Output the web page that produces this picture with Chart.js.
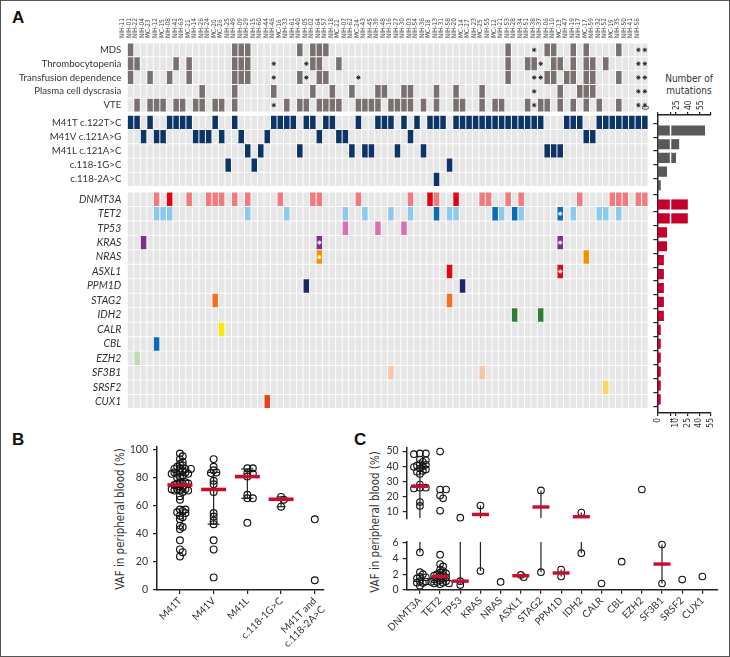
<!DOCTYPE html>
<html>
<head>
<meta charset="utf-8">
<title>UBA1 variants and co-mutations</title>
<script src="https://cdn.jsdelivr.net/npm/chart.js@4.4.1/dist/chart.umd.min.js"></script>
<style>
  html, body { margin: 0; padding: 0; background: #fff; }
  #fig { position: relative; width: 730px; height: 657px; overflow: hidden; background: #fff; }
  #fig canvas { position: absolute; }
  .txt { position: absolute; white-space: nowrap; color: #333; }
  .panel { font: bold 17px "Liberation Sans", Arial, sans-serif; color: #111; }
  .narrow { font-family: "Liberation Sans Narrow", "DejaVu Sans Condensed", Roboto, sans-serif; }
  .ytitle { font-size: 11.5px; transform: translate(-50%, -50%) rotate(-90deg); }
  #frame { position: absolute; left: 0; top: 0; width: 730px; height: 657px; box-sizing: border-box; border: 1.5px solid #555; pointer-events: none; }
</style>
</head>
<body>
<div id="fig">
  <div class="txt panel" style="left:12px;top:8px">A</div>
  <div class="txt panel" style="left:12px;top:430px">B</div>
  <div class="txt panel" style="left:354px;top:430px">C</div>
  <div class="txt narrow" style="left:659px;top:73px;width:60px;text-align:center;font-size:10px;line-height:11.5px">Number of<br>mutations</div>
  <div class="txt narrow ytitle" style="left:120px;top:519px">VAF in peripheral blood (%)</div>
  <div class="txt narrow ytitle" style="left:375px;top:522px">VAF in peripheral blood (%)</div>
  <div id="frame"></div>
</div>
<script>
const NARROW = '"Liberation Sans Narrow", "DejaVu Sans Condensed", Roboto, sans-serif';
Chart.defaults.font.family = 'Lato, "Liberation Sans", sans-serif';
Chart.defaults.color = '#333';

// ---------- panel A data ----------
const patients = ['NIH-11', 'NIH-01', 'NIH-22', 'NIH-04', 'MC-23', 'NIH-12', 'MC-15', 'NIH-08', 'NIH-42', 'NIH-63',
    'MC-21', 'NIH-14', 'NIH-26', 'NIH-24', 'MC-20', 'MC-26', 'NIH-25', 'NIH-49', 'NIH-09', 'NIH-29',
    'NIH-15', 'NIH-60', 'NIH-44', 'NIH-46', 'MC-16', 'NIH-33', 'NIH-61', 'NIH-40', 'NIH-05', 'NIH-02',
    'NIH-64', 'NIH-57', 'NIH-18', 'MC-22', 'NIH-07', 'NIH-62', 'MC-24', 'NIH-43', 'NIH-45', 'NIH-39',
    'NIH-48', 'NIH-16', 'NIH-27', 'NIH-30', 'NIH-03', 'NIH-54', 'NIH-36', 'MC-18', 'NIH-13', 'NIH-31',
    'NIH-58', 'NIH-20', 'MC-14', 'MC-27', 'NIH-23', 'MC-25', 'NIH-55', 'MC-12', 'NIH-21', 'NIH-53',
    'NIH-28', 'NIH-34', 'NIH-51', 'NIH-38', 'NIH-37', 'NIH-06', 'NIH-10', 'MC-13', 'NIH-47', 'NIH-19',
    'NIH-17', 'MC-17', 'NIH-59', 'NIH-32', 'NIH-52', 'MC-19', 'NIH-35', 'NIH-50', 'NIH-41', 'NIH-56'];

const clinicalRows = ['MDS', 'Thrombocytopenia', 'Transfusion dependence', 'Plasma cell dyscrasia', 'VTE'];
const variantRows = ['M41T c.122T>C', 'M41V c.121A>G', 'M41L c.121A>C', 'c.118-1G>C', 'c.118-2A>C'];
const geneRows = ['DNMT3A', 'TET2', 'TP53', 'KRAS', 'NRAS', 'ASXL1', 'PPM1D', 'STAG2', 'IDH2', 'CALR',
    'CBL', 'EZH2', 'SF3B1', 'SRSF2', 'CUX1'];

// column indexes (into patients) that are filled
const mds = [0, 16, 17, 18, 26, 28, 29, 30, 58, 64, 65, 68, 70, 75];
const thrombocytopenia = [0, 1, 7, 9, 16, 17, 18, 28, 29, 32, 58, 61, 62, 65, 66, 68, 70, 71, 73];
const transfusionDependence = [0, 3, 6, 9, 16, 17, 18, 26, 29, 30, 58, 64, 65, 67, 68, 70, 71, 75];
const plasmaCellDyscrasia = [11, 16, 22, 28, 31, 34, 38, 39, 42, 43, 47, 50, 54, 66, 69, 70, 71];
const vte = [1, 3, 4, 5, 7, 8, 10, 11, 13, 14, 16, 24, 26, 27, 29, 30, 31, 32, 35, 36, 37, 38, 40, 41, 42, 43,
    45, 47, 50, 51, 54, 56, 57, 61, 63, 64, 66, 68, 70, 72, 75];
// "*" cells, one list per clinical row
const clinicalStars = [[62, 78, 79], [22, 27, 63, 78, 79], [22, 27, 35, 62, 63, 78, 79], [62, 78, 79], [22, 62, 78, 79]];

const m41t = [0, 1, 3, 6, 7, 8, 9, 13, 16, 22, 23, 24, 25, 27, 28, 30, 31, 35, 38, 39, 40, 42, 44, 46, 47, 48,
    50, 51, 52, 53, 54, 55, 56, 57, 58, 59, 60, 61, 62, 63, 67, 68, 69, 72, 73, 74, 75, 76, 77, 78, 79];
const m41v = [2, 4, 5, 10, 11, 12, 14, 17, 21, 29, 32, 33, 43, 70, 71];
const m41l = [18, 20, 26, 34, 36, 37, 41, 45, 64, 65, 66];
const c118g = [15, 19, 49];
const c118a = [47];

const geneHits = [
    [4, 6, 9, 12, 13, 14, 16, 18, 23, 28, 29, 35, 43, 46, 47, 50, 54, 55, 58, 60, 69, 74, 75, 76, 78, 79],
    [4, 5, 6, 18, 24, 33, 36, 40, 43, 47, 49, 50, 56, 57, 59, 60, 66, 68, 72, 73, 75],
    [33, 38, 42],
    [2, 29, 66],
    [29, 70],
    [49, 66],
    [27, 51],
    [13, 49],
    [59, 63],
    [14],
    [4],
    [1],
    [40, 54],
    [73],
    [21],
];
const dnmt3aDark = [6, 46, 50];
const tet2Dark = [47, 56, 59, 66];
const geneColors = ['#f27a7e', '#8dc9ef', '#d870b2', '#7d2e8d', '#f39200', '#e30613', '#1d2566', '#f07122',
    '#2e7d32', '#ffe800', '#0a6cb3', '#b9dcb0', '#f9c6a5', '#ffd65c', '#e8411c'];
// [gene row, column] cells marked with a white "*"
const geneStars = [[1, 66], [3, 29], [3, 66], [4, 29], [5, 66]];

const variantCounts = [47, 14, 10, 3, 1];
const geneCounts = [25, 25, 3, 3, 2, 2, 2, 2, 2, 1, 1, 1, 1, 1, 1];
const countTicksLow = [0];
const countTicksHigh = [4, 10, 25, 40, 55];

// ---------- panel B data ----------
const bCategories = ['M41T', 'M41V', 'M41L', 'c.118-1G>C', ['M41T and', 'c.118-2A>C']];
const vafM41T = [97.5, 95.5, 93.5, 91.5, 90, 89, 88, 87, 86.5, 86.5, 86.5, 85, 84, 84, 84, 83, 83, 83, 82, 81,
    80, 77, 77, 76, 76, 76, 75, 74, 73, 72, 72, 72, 71, 71, 71, 70, 67, 64.5, 57.5, 57.5, 56.5, 55.5, 55, 53,
    52, 50.5, 46, 45, 43.5, 35.5, 29, 27, 24];
const vafM41V = [93.5, 88, 85.5, 84, 83.5, 78, 75.5, 70, 55, 52.5, 49.5, 47, 35.5, 29, 9];
const vafM41L = [87, 87, 83.5, 83, 81, 68, 65.5, 65.5, 48];
const vafC118G = [66.5, 64.5, 59.5];
const vafDouble = [50.5, 7];
const bMedians = [75, 71.8, 81, 64.8, null];
const bLow = [null, 47, 65.5, 59.5, null];
const bHigh = [null, 84, 86.5, 66.5, null];
const bTicks = [0, 20, 40, 60, 80, 100];

// ---------- panel C data ----------
const cGenes = ['DNMT3A', 'TET2', 'TP53', 'KRAS', 'NRAS', 'ASXL1', 'STAG2', 'PPM1D', 'IDH2', 'CALR', 'CBL',
    'EZH2', 'SF3B1', 'SRSF2', 'CUX1'];
const cVaf = [
    [48.5, 48.5, 48, 44.5, 44, 43, 41.5, 41, 40.5, 40, 39.5, 38.5, 38, 37, 36.5, 35, 28, 26, 26, 25.5, 16.5, 14,
        4.8, 2.25, 2.0, 1.65, 1.6, 1.45, 1.1, 1.05, 0.9, 0.85, 0.5],
    [49.7, 24.8, 24.8, 20.8, 19, 10.8, 4.5, 3.3, 3.0, 2.6, 2.4, 2.2, 2.1, 2.0, 1.9, 1.8, 1.7, 1.6, 1.5, 1.4,
        1.3, 1.2, 1.1, 1.0, 1.0, 0.9, 0.8, 0.8, 0.7],
    [6.3, 1.1, 0.6],
    [14.2, 2.4],
    [1.0],
    [1.9, 1.6],
    [24.2, 2.25],
    [2.6, 1.7],
    [9.6, 4.7],
    [0.8],
    [3.6],
    [24.8],
    [5.8, 0.8],
    [1.3],
    [1.7],
];
const cMedians = [26.9, 1.7, 1.1, 8.4, null, 1.8, 13.3, 2.15, 6.9, null, null, null, 3.3, null, null];
const cLow = [4.8, 1.0, 0.6, 2.4, null, 1.6, 2.25, 1.7, 4.7, null, null, null, 0.8, null, null];
const cHigh = [40, 3.3, 6.3, 14.2, null, 1.9, 24.2, 2.6, 9.6, null, null, null, 5.8, null, null];
const cTicksTop = [10, 20, 30, 40, 50];
const cTicksBottom = [0, 2, 4, 6];

// ---------- helpers ----------
const INK = '#222';
const RED = '#cc0c2f';
const EMPTY = '#e7e6e7';
const CLIN = '#7a7070';
const NAVY = '#0c3466';
const BREAK = 6.1;

const fig = document.getElementById('fig');
const frame = document.getElementById('frame');

function addCanvas(left, top, w, h) {
    const c = document.createElement('canvas');
    c.width = w;
    c.height = h;
    c.style.left = left + 'px';
    c.style.top = top + 'px';
    c.style.width = w + 'px';
    c.style.height = h + 'px';
    fig.insertBefore(c, frame);
    return c;
}

// pin an axis box to a fixed size so the chart area lands where the figure needs it
function fixSize(w, h) {
    return (s) => {
        s.paddingLeft = 0;
        s.paddingRight = 0;
        s.paddingTop = 0;
        s.paddingBottom = 0;
        if (s.options.display === false) return;
        if (w !== null) s.width = w;
        if (h !== null) s.height = h;
    };
}

function setTicks(values) {
    return (s) => { s.ticks = values.map((v) => ({ value: v })); };
}

const axisGrid = { display: true, drawOnChartArea: false, drawTicks: true, tickLength: 4, color: INK, lineWidth: 1.2 };
const axisBorder = { display: true, color: INK, width: 1.5 };
const noPlugins = { legend: { display: false }, tooltip: { enabled: false } };

// beeswarm offsets (in x units) so the circles do not sit on top of each other
function swarm(values, pxY, pxX, minDist, step) {
    const order = values.map((_, i) => i).sort((a, b) => values[b] - values[a]);
    const placed = [];
    const out = new Array(values.length).fill(0);
    order.forEach((i) => {
        const py = values[i] * pxY;
        for (let k = 0; k < 60; k++) {
            const px = (k % 2 ? 1 : -1) * Math.ceil(k / 2) * step;
            if (placed.every((p) => Math.hypot(p.x - px, p.y - py) >= minDist)) {
                placed.push({ x: px, y: py });
                out[i] = px / pxX;
                break;
            }
        }
    });
    return out;
}

// ---------- panel A : heatmap ----------
const groups = [
    { labels: clinicalRows, top: 0, pitch: 14 },
    { labels: variantRows, top: 73.3, pitch: 14.4 },
    { labels: geneRows, top: 151, pitch: 14.66 },
];
const rows = [];
groups.forEach((g, gi) => {
    g.labels.forEach((name, i) => {
        rows.push({ name, group: gi, idx: i, top: g.top + i * g.pitch, pitch: g.pitch, center: g.top + (i + 0.5) * g.pitch });
    });
});

const clinicalHits = [mds, thrombocytopenia, transfusionDependence, plasmaCellDyscrasia, vte];
const variantHits = [m41t, m41v, m41l, c118g, c118a];

function cellColor(row, c) {
    if (row.group === 0) return clinicalHits[row.idx].includes(c) ? CLIN : EMPTY;
    if (row.group === 1) return variantHits[row.idx].includes(c) ? NAVY : EMPTY;
    if (!geneHits[row.idx].includes(c)) return EMPTY;
    if (row.idx === 0 && dnmt3aDark.includes(c)) return '#e3000f';
    if (row.idx === 1 && tet2Dark.includes(c)) return '#0a6cb3';
    return geneColors[row.idx];
}

const starPoints = [];
const starColors = [];
clinicalStars.forEach((cols, r) => cols.forEach((c) => {
    starPoints.push({ x: patients[c], y: rows[r].center });
    starColors.push('#222');
}));
geneStars.forEach(([g, c]) => {
    const row = rows.find((r) => r.group === 2 && r.idx === g);
    starPoints.push({ x: patients[c], y: row.center });
    starColors.push('#fff');
});

const heatDatasets = rows.map((row) => ({
    type: 'bar',
    data: patients.map(() => [row.top + 0.5, row.top + row.pitch - 0.5]),
    backgroundColor: patients.map((_, c) => cellColor(row, c)),
    borderWidth: 0,
    grouped: false,
    barPercentage: 0.85,
    categoryPercentage: 1,
    order: 1,
}));
heatDatasets.push({
    type: 'scatter',
    data: starPoints,
    pointStyle: 'star',
    pointRadius: 2.2,
    pointBorderWidth: 0.9,
    pointBorderColor: starColors,
    order: 0,
});

new Chart(addCanvas(0, 0, 653, 413), {
    type: 'bar',
    data: { labels: patients, datasets: heatDatasets },
    options: {
        animation: false,
        responsive: false,
        layout: { padding: 0 },
        plugins: noPlugins,
        scales: {
            x: {
                position: 'top',
                grid: { display: false, drawTicks: false },
                border: { display: false },
                ticks: { autoSkip: false, minRotation: 90, maxRotation: 90, padding: 5, color: '#444',
                    font: { size: 6.5, family: NARROW } },
                afterFit: fixSize(null, 43),
            },
            y: {
                type: 'linear',
                min: 0,
                max: 370,
                reverse: true,
                grid: { display: false, drawTicks: false },
                border: { display: false },
                afterBuildTicks: setTicks(rows.map((r) => r.center)),
                ticks: {
                    autoSkip: false,
                    padding: 6,
                    color: '#333',
                    callback: (v, i) => rows[i].name,
                    font: (ctx) => (rows[ctx.index] && rows[ctx.index].group === 2
                        ? { size: 10.5, style: 'italic' } : { size: 9.6, style: 'normal' }),
                },
                afterFit: fixSize(127.3, null),
            },
        },
    },
});

// ---------- panel A : number of mutations (broken axis, two pieces) ----------
function countData(counts, group, high) {
    return counts.map((v, i) => {
        const row = rows.find((r) => r.group === group && r.idx === i);
        return { x: high && v <= countTicksHigh[0] ? null : v, y: row.center };
    });
}

function countChart(left, width, padLeft, padRight, min, max, ticks, high) {
    const tickAxis = (position) => ({
        type: 'linear',
        position,
        min,
        max,
        afterBuildTicks: setTicks(ticks),
        grid: { display: true, drawOnChartArea: false, drawTicks: true, tickLength: 3, color: INK, lineWidth: 1.2 },
        border: axisBorder,
        ticks: { autoSkip: false, minRotation: 90, maxRotation: 90, padding: 2, color: '#333',
            font: { size: 8.5, family: NARROW } },
        afterFit: fixSize(null, position === 'top' ? 30 : 32),
    });
    new Chart(addCanvas(left, 85, width, 360), {
        type: 'bar',
        data: {
            datasets: [
                { data: countData(variantCounts, 1, high), backgroundColor: '#595959', barThickness: 9.5,
                    grouped: false, clip: 0, base: min },
                { data: countData(geneCounts, 2, high), backgroundColor: '#c4002c', barThickness: 9.5,
                    grouped: false, clip: 0, base: min },
            ],
        },
        options: {
            indexAxis: 'y',
            animation: false,
            responsive: false,
            layout: { padding: { left: padLeft, right: padRight } },
            plugins: noPlugins,
            scales: {
                x: tickAxis('bottom'),
                x2: tickAxis('top'),
                y: {
                    type: 'linear',
                    min: 72,
                    max: 370,
                    reverse: true,
                    display: !high,
                    afterBuildTicks: setTicks(rows.filter((r) => r.group > 0).map((r) => r.center)),
                    grid: axisGrid,
                    border: axisBorder,
                    ticks: { autoSkip: false, callback: () => '' },
                    afterFit: fixSize(17.3, null),
                },
            },
        },
    });
}
countChart(640, 30, 0, 0.2, 0, 4, countTicksLow, false);
countChart(670, 60, 1, 19, 4, 55, countTicksHigh, true);

// ---------- panel B ----------
const B = { left: 157, right: 333, top: 446.5, bottom: 590, xMin: -0.68, xMax: 4.27, yMax: 102.5 };
const bPxX = (B.right - B.left) / (B.xMax - B.xMin);
const bPxY = (B.bottom - B.top) / B.yMax;
const bGroups = [vafM41T, vafM41V, vafM41L, vafC118G, vafDouble];

const bDatasets = [{
    data: bMedians.map((m, i) => (m === null ? null : { x: i, y: m })).filter(Boolean),
    pointStyle: 'line', pointRadius: 12.5, pointBorderWidth: 3.6, pointBorderColor: RED, clip: false,
}];
bLow.forEach((lo, i) => {
    if (lo === null) return;
    bDatasets.push({
        data: [{ x: i, y: lo }, { x: i, y: bHigh[i] }],
        pointStyle: 'line', pointRadius: i === 3 ? 4.5 : 6, pointBorderWidth: 1.2, pointBorderColor: INK, clip: false,
    });
    bDatasets.push({
        type: 'line', data: [{ x: i, y: lo }, { x: i, y: bHigh[i] }],
        borderColor: INK, borderWidth: 1.2, pointRadius: 0, clip: false,
    });
});
bGroups.forEach((vals, i) => {
    const offs = swarm(vals, bPxY, bPxX, 3.2, 2.9);
    bDatasets.push({
        data: vals.map((v, k) => ({ x: i + offs[k], y: v })),
        pointStyle: 'circle', pointRadius: 3.4, pointBorderWidth: 1.15, pointBorderColor: '#111',
        pointBackgroundColor: 'rgba(255,255,255,0)', clip: false,
    });
});

new Chart(addCanvas(95, 430, 245, 227), {
    type: 'scatter',
    data: { datasets: bDatasets },
    options: {
        animation: false,
        responsive: false,
        layout: { padding: { top: B.top - 430, right: 340 - B.right } },
        plugins: noPlugins,
        scales: {
            x: {
                type: 'linear', min: B.xMin, max: B.xMax,
                afterBuildTicks: setTicks(bCategories.map((_, i) => i)),
                grid: axisGrid, border: axisBorder,
                ticks: { autoSkip: false, minRotation: 45, maxRotation: 45, padding: 1, color: '#333',
                    font: { size: 10 }, callback: (v, i) => bCategories[i] },
                afterFit: fixSize(null, 657 - B.bottom),
            },
            y: {
                min: 0, max: B.yMax,
                afterBuildTicks: setTicks(bTicks),
                grid: axisGrid, border: axisBorder,
                ticks: { padding: 5, color: '#333', font: { size: 10.5 } },
                afterFit: fixSize(B.left - 95, null),
            },
        },
    },
});

// ---------- panel C (broken y axis: two stacked charts) ----------
const C = { left: 406.7, right: 720, xMin: -0.655, xMax: 14.78 };
const cPxX = (C.right - C.left) / (C.xMax - C.xMin);
const segments = [
    { top: 447.3, bottom: 527, min: 6, max: 52.5, ticks: cTicksTop, canvasTop: 430, canvasH: 100, upper: true },
    { top: 534.3, bottom: 589.7, min: 0, max: 6.15, ticks: cTicksBottom, canvasTop: 530, canvasH: 127, upper: false },
];

segments.forEach((seg) => {
    const pxY = (seg.bottom - seg.top) / (seg.max - seg.min);
    const inSeg = (v) => (seg.upper ? v > BREAK : v <= BREAK);
    const ds = [{
        data: cMedians.map((m, i) => (m === null || !inSeg(m) ? null : { x: i, y: m })).filter(Boolean),
        pointStyle: 'line', pointRadius: 8.5, pointBorderWidth: 3.4, pointBorderColor: RED, clip: false,
    }];
    cLow.forEach((lo, i) => {
        if (lo === null) return;
        ds.push({
            type: 'line', data: [{ x: i, y: lo }, { x: i, y: cHigh[i] }],
            borderColor: INK, borderWidth: 1.2, pointRadius: 0, clip: 0,
        });
    });
    cVaf.forEach((vals, i) => {
        const mine = vals.filter(inSeg);
        if (!mine.length) return;
        const offs = swarm(mine, pxY, cPxX, 3.3, 3.0);
        ds.push({
            data: mine.map((v, k) => ({ x: i + offs[k], y: v })),
            pointStyle: 'circle', pointRadius: 3.3, pointBorderWidth: 1.1, pointBorderColor: '#111',
            pointBackgroundColor: 'rgba(255,255,255,0)', clip: false,
        });
    });

    new Chart(addCanvas(330, seg.canvasTop, 400, seg.canvasH), {
        type: 'scatter',
        data: { datasets: ds },
        options: {
            animation: false,
            responsive: false,
            layout: { padding: { top: seg.top - seg.canvasTop, right: 730 - C.right,
                bottom: seg.upper ? seg.canvasTop + seg.canvasH - seg.bottom : 0 } },
            plugins: noPlugins,
            scales: {
                x: {
                    type: 'linear', min: C.xMin, max: C.xMax,
                    display: !seg.upper,
                    afterBuildTicks: setTicks(cGenes.map((_, i) => i)),
                    grid: axisGrid, border: axisBorder,
                    ticks: { autoSkip: false, minRotation: 45, maxRotation: 45, padding: 1, color: '#333',
                        font: { size: 10 }, callback: (v, i) => cGenes[i] },
                    afterFit: fixSize(null, seg.canvasTop + seg.canvasH - seg.bottom),
                },
                y: {
                    min: seg.min, max: seg.max,
                    afterBuildTicks: setTicks(seg.ticks),
                    grid: axisGrid, border: axisBorder,
                    ticks: { padding: 4, color: '#333', font: { size: 10.5 } },
                    afterFit: fixSize(C.left - 330, null),
                },
            },
        },
    });
});
</script>
</body>
</html>
